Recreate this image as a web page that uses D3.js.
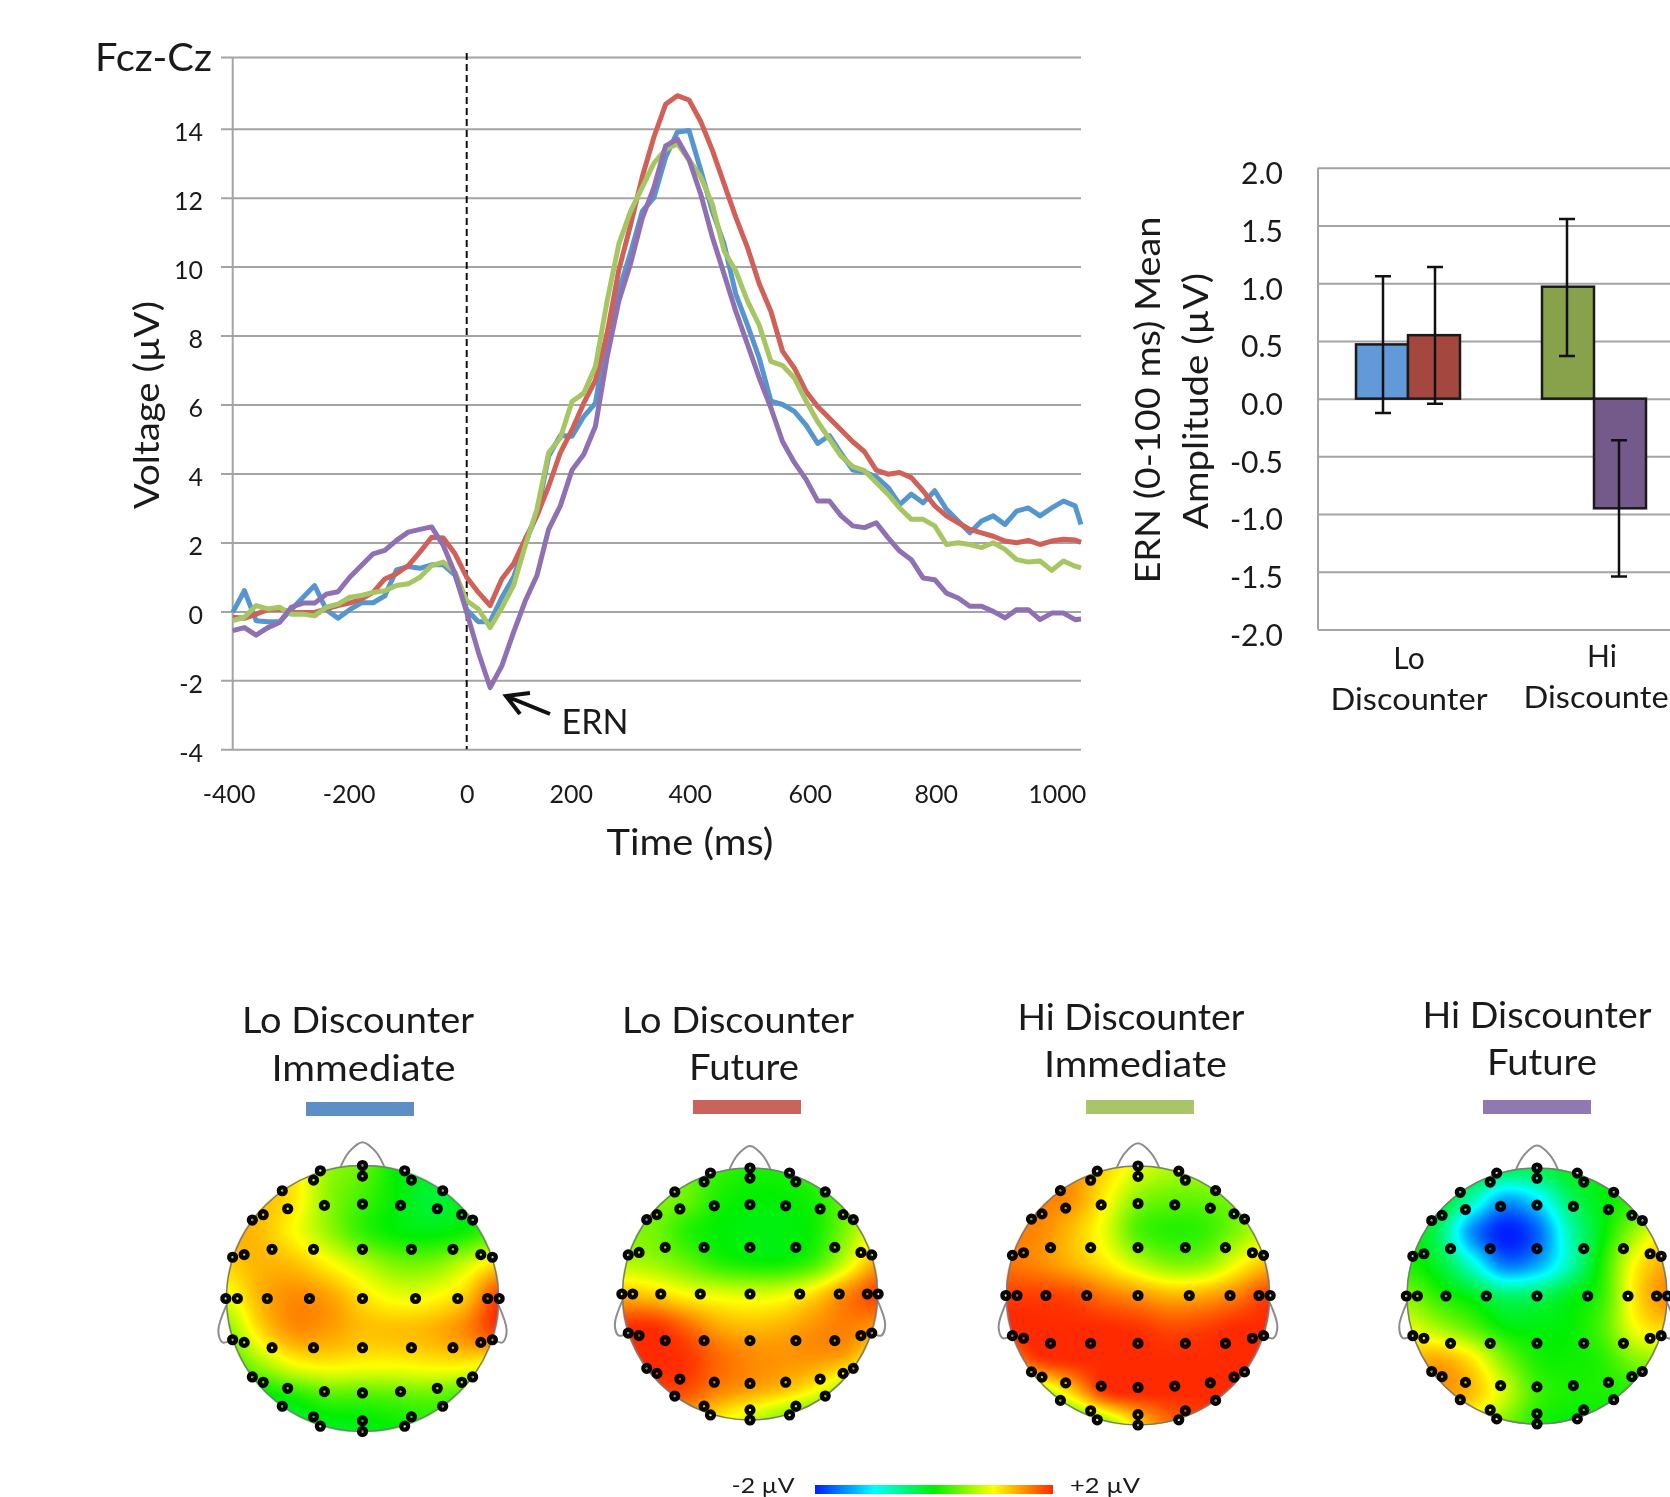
<!DOCTYPE html>
<html>
<head>
<meta charset="utf-8">
<title>ERN</title>
<script src="https://cdnjs.cloudflare.com/ajax/libs/d3/7.8.5/d3.min.js"></script>
<style>
  html, body { margin: 0; padding: 0; background: #fff; overflow: hidden; }
  svg { display: block; filter: blur(0.5px); }
  text { font-family: Lato, "Open Sans", sans-serif; fill: #1a1a1a; }
</style>
</head>
<body>
<div id="chart"></div>
<script>
// waveform data
const times = [-400,-380,-360,-340,-320,-300,-280,-260,-240,-220,-200,-180,-160,-140,-120,-100,-80,-60,-40,-20,
  0,20,40,60,80,100,120,140,160,180,200,220,240,260,280,300,320,340,360,380,
  400,420,440,460,480,500,520,540,560,580,600,620,640,660,680,700,720,740,760,780,
  800,820,840,860,880,900,920,940,960,980,1000,1020,1040,1050]

const loImmediate = [-.03,.6,-.27,-.3,-.3,.05,.4,.75,.05,-.2,.05,.25,.25,.45,1.2,1.3,1.25,1.35,1.35,1.05,
  .05,-.3,-.3,.4,.99,2.0,2.8,4.5,5.1,5.08,5.65,6.04,8.06,9.3,10.4,11.6,12.0,13.17,13.9,13.95,
  12.8,11.6,10.65,9.2,8.3,7.35,6.1,6.0,5.8,5.4,4.87,5.1,4.58,4.1,4.05,3.9,3.6,3.1,3.4,3.15,
  3.5,2.96,2.62,2.28,2.62,2.77,2.52,2.91,3.0,2.77,3.0,3.2,3.06,2.52]
const loFuture = [-.17,-.2,-.08,.05,.07,-.03,-.03,-.03,.07,.17,.24,.36,.55,.94,1.09,1.33,1.72,2.15,2.13,1.67,
  .99,.55,.17,.94,1.38,2.1,2.77,3.63,4.6,5.27,6.04,6.7,8.06,9.9,11.2,12.6,13.76,14.68,14.92,14.8,
  14.2,13.37,12.4,11.43,10.55,9.5,8.7,7.54,7.06,6.38,5.94,5.6,5.26,4.92,4.63,4.1,3.98,4.03,3.88,3.5,
  3.06,2.77,2.57,2.38,2.28,2.18,2.04,1.99,2.06,1.94,2.04,2.09,2.07,2.0]
const hiImmediate = [-.27,-.17,.17,.07,.12,-.08,-.08,-.13,.12,.21,.41,.46,.55,.6,.75,.8,.99,1.33,1.43,1.14,
  .31,.07,-.47,.1,.75,1.9,2.96,4.6,5.03,6.09,6.33,7.1,9.0,10.65,11.6,12.3,13,13.4,13.56,13.1,
  12.6,11.8,10.45,9.87,9,8.3,7.25,7.13,6.77,6.1,5.5,5.0,4.5,4.2,4.08,3.74,3.4,3.0,2.67,2.67,
  2.48,1.94,1.99,1.94,1.85,1.99,1.8,1.5,1.43,1.46,1.19,1.46,1.31,1.26]
const hiFuture = [-.56,-.47,-.69,-.47,-.32,.12,.24,.24,.5,.57,.99,1.33,1.67,1.77,2.06,2.3,2.38,2.45,1.91,1.09,
  -.03,-1.19,-2.21,-1.58,-.61,.3,1.04,2.38,3.06,4.1,4.55,5.37,7.38,9.0,10.08,11.4,12.3,13.5,13.7,13.1,
  12.1,10.85,9.78,8.7,7.74,6.77,5.9,4.92,4.32,3.83,3.2,3.2,2.77,2.48,2.43,2.57,2.14,1.75,1.5,.97,
  .92,.53,.39,.15,.15,0,-.19,.05,.05,-.24,-.05,-.05,-.24,-.22]

const waveYTicks = [-4,-2,0,2,4,6,8,10,12,14,16]
const waveXTicks = [-400,-200,0,200,400,600,800,1000]

// bar panel
const barGroups = ["Lo Discounter", "Hi Discounter"]
const barKeys = ["Immediate", "Future"]
const barMeans = [[0.47, 0.55], [0.97, -0.95]]
const barErrLow = [[-0.125, -0.045], [0.37, -1.54]]
const barErrHigh = [[1.06, 1.14], [1.557, -0.36]]
const barTicks = [-2,-1.5,-1,-0.5,0,0.5,1,1.5,2]

// scalp maps: potential on a 9x9 grid, rows top to bottom, columns left to right
const topoLoImmediate = [
  [1.2,1.2,1.1,.6,.4,0,-.1,0,0],
  [1.3,1.3,1.1,.55,.25,0,-.2,-.1,0],
  [1.4,1.3,1.0,.6,.2,0,-.05,.05,.3],
  [1.2,1.35,1.3,1.05,.75,.5,.5,.8,1.2],
  [.9,1.35,1.55,1.45,1.15,.95,1.0,1.25,1.9],
  [.5,1.15,1.5,1.45,1.3,1.3,1.35,1.55,1.9],
  [.2,.6,.95,1.05,1.0,1.0,1.05,1.05,.9],
  [-.2,-.1,.05,.25,.25,.3,.35,.2,.2],
  [-.2,-.2,-.2,-.15,-.1,0,.1,.1,.1]]
const topoLoFuture = [
  [.5,.5,.4,.2,.1,.1,.2,.3,.4],
  [.5,.5,.4,.1,0,0,.1,.4,.7],
  [.5,.45,.15,0,-.05,-.05,.05,.5,1],
  [.7,.6,.4,.15,.05,.05,.25,.8,1.4],
  [1.3,1.2,1.0,.9,.85,.9,1.15,1.55,1.85],
  [1.95,1.95,1.7,1.4,1.3,1.35,1.5,1.6,1.5],
  [2,2,1.95,1.7,1.55,1.5,1.5,1.4,1.0],
  [1.8,1.9,1.85,1.6,1.45,1.3,1.05,.6,.3],
  [1.5,1.5,1.4,1.1,.8,.5,.2,0,0]]
const topoHiImmediate = [
  [1.6,1.6,1.5,1.2,.9,.7,.7,.8,.8],
  [1.6,1.6,1.5,1.05,.55,.4,.4,.5,.7],
  [1.6,1.55,1.3,.9,.3,.15,.2,.5,.85],
  [1.65,1.55,1.35,1.1,.75,.5,.55,.95,1.3],
  [1.9,1.9,1.85,1.65,1.5,1.35,1.4,1.6,1.9],
  [2,2,2,2,1.95,1.85,1.9,2,2],
  [1.5,1.9,2,2,2,2,2,2,2],
  [.5,.6,1.2,1.9,2,2,2,2,1.9],
  [0,0,.1,.5,1.2,1.7,1.9,1.9,1.9]]
const topoHiFuture = [
  [.05,.05,-.1,-.3,-.3,-.1,0,.1,.3],
  [0,-.1,-.7,-1.4,-1.1,-.4,-.05,.2,.5],
  [0,-.4,-1.5,-2,-1.7,-.7,-.05,.6,1.1],
  [.1,-.2,-.85,-1.6,-1.4,-.7,.1,1.0,1.4],
  [.5,.15,-.1,-.4,-.35,-.1,.2,1.1,1.55],
  [.9,.65,.35,0,-.05,0,.3,.95,1.2],
  [1.3,1.4,1.1,.5,.1,.05,.15,.5,.6],
  [1.4,1.5,1.3,.8,.25,.1,.1,.1,.1],
  [1.2,1.2,.9,.5,.1,0,0,0,0]]
const topoGrid = d3.range(-1, 1.01, 0.25)

// electrode montage, one quadrant, mirrored below
const montageU = [0,0,0,0,0,.28,.55,.73,.81,.59,.36,.31,.36,.665,.87,.955,.39,.70,.92,1.005]
const montageV = [1,.92,.71,.37,0,.7,.675,.63,.59,.81,.89,.96,.37,.37,.33,.31,0,0,0,0]
const colorStops = [-2,-1,0,1,2]
const colorValues = ["#0020ff","#00ffff","#00f000","#ffff00","#ff2a00"]

const svg = d3.select("#chart").append("svg").attr("width", 1670).attr("height", 1497)

const gridColor = "#a4a4a4"

function label(str, x, y, size, opts) {
  opts = opts || {}
  const t = svg.append("text")
    .attr("font-size", size)
    .attr("text-anchor", opts.anchor || "middle")
    .attr("dominant-baseline", "central")
    .text(str)
  // the original text is stretched along its run, so fit to the measured length
  if(opts.len) t.attr("textLength", opts.len).attr("lengthAdjust", "spacingAndGlyphs")
  if(opts.rotate) t.attr("transform", "translate(" + x + "," + y + ") rotate(" + opts.rotate + ")")
  else t.attr("x", x).attr("y", y)
  return t
}

drawWaves()
drawBars()
drawMaps()

function drawWaves() {
  const x = d3.scaleLinear().domain([-400, 1050]).range([232.7, 1081])
  // top rule sits a bit higher than the 2 uV spacing in the original
  const y = d3.scaleLinear().domain([-4, 14, 16]).range([749.3, 128.7, 57])

  const g = svg.append("g")

  // grid + y labels
  const yAxis = g.append("g")
    .attr("transform", "translate(221,0)")
    .call(d3.axisRight(y).tickValues(waveYTicks).tickSize(860).tickFormat(""))
  yAxis.select(".domain").remove()
  yAxis.selectAll("line").attr("stroke", gridColor).attr("stroke-width", 2)

  const yLabels = g.append("g")
    .attr("transform", "translate(232,0)")
    .call(d3.axisLeft(y).tickValues(waveYTicks.filter(d => d < 16)).tickSize(0).tickPadding(29).tickFormat(d => d))
  yLabels.select(".domain").remove()
  yLabels.selectAll("text").attr("font-size", 25).attr("dy", "0.47em").attr("font-family", null)

  g.append("line")
    .attr("x1", x(-400)).attr("x2", x(-400))
    .attr("y1", y(16)).attr("y2", y(-4))
    .attr("stroke", gridColor).attr("stroke-width", 2)

  // x labels were placed by hand in the original, they drift from the scale
  const xNudge = {"-400": -4, "-200": -1, "0": 0, "200": -13, "400": -11, "600": -8, "800": 1, "1000": 5}
  const xLabels = g.append("g")
    .attr("transform", "translate(0,749)")
    .call(d3.axisBottom(x).tickValues(waveXTicks).tickSize(0).tickPadding(36).tickFormat(d => d))
  xLabels.select(".domain").remove()
  xLabels.selectAll("text").attr("font-size", 25).attr("font-family", null)
    .attr("dx", d => xNudge[d])

  // response onset
  g.append("line")
    .attr("x1", x(0)).attr("x2", x(0))
    .attr("y1", 53).attr("y2", y(-4))
    .attr("stroke", "#111").attr("stroke-width", 2).attr("stroke-dasharray", "7 4")

  const line = d3.line().x((d, i) => x(times[i])).y(d => y(d))
  const series = [[loImmediate, "#5596cf"], [loFuture, "#cf6158"], [hiImmediate, "#a5c663"], [hiFuture, "#8f70b3"]]
  g.selectAll(".wave").data(series).enter().append("path")
    .attr("class", "wave")
    .attr("d", d => line(d[0]))
    .attr("fill", "none")
    .attr("stroke", d => d[1])
    .attr("stroke-width", 5)
    .attr("stroke-linejoin", "round")

  label("Fcz-Cz", 153.5, 56, 39, {len: 117})
  label("Voltage (µV)", 145, 405, 35, {rotate: -90, len: 208})
  label("Time (ms)", 690, 840, 37, {len: 167})
  label("ERN", 595, 720, 34, {len: 67})

  // arrow pointing at the ERN dip
  const arrow = d3.line()
  g.append("path")
    .attr("d", arrow([[550, 714], [506, 696]]) + arrow([[530, 693], [506, 696], [520, 714]]))
    .attr("fill", "none").attr("stroke", "#111").attr("stroke-width", 4)
}

function drawBars() {
  const y = d3.scaleLinear().domain([-2, 2]).range([629.5, 167.8])
  const x0 = d3.scaleBand().domain(barGroups).range([1315, 1687])
  const x1 = d3.scaleBand().domain(barKeys).range([-52, 52])
  const fills = [["#6299d9", "#a4483f"], ["#87a24b", "#735a8a"]]

  const g = svg.append("g")

  const grid = g.append("g")
    .attr("transform", "translate(1318,0)")
    .call(d3.axisRight(y).tickValues(barTicks).tickSize(380).tickFormat(""))
  grid.select(".domain").remove()
  grid.selectAll("line").attr("stroke", gridColor).attr("stroke-width", 2)

  const labels = g.append("g")
    .attr("transform", "translate(1318,0)")
    .call(d3.axisLeft(y).tickValues(barTicks).tickSize(0).tickPadding(35).tickFormat(d => d.toFixed(1)))
  labels.select(".domain").remove()
  labels.selectAll("text").attr("font-size", 30).attr("dy", "0.53em").attr("font-family", null)

  g.append("line")
    .attr("x1", 1318).attr("x2", 1318).attr("y1", y(2)).attr("y2", y(-2))
    .attr("stroke", gridColor).attr("stroke-width", 2)

  barGroups.forEach((group, i) => {
    barKeys.forEach((key, j) => {
      const bx = x0(group) + x0.bandwidth() / 2 + x1(key)
      const v = barMeans[i][j]
      g.append("rect")
        .attr("x", bx).attr("width", x1.bandwidth())
        .attr("y", y(Math.max(v, 0))).attr("height", Math.abs(y(v) - y(0)))
        .attr("fill", fills[i][j]).attr("stroke", "#1a1a1a").attr("stroke-width", 2.5)
      // whiskers sit a little off the bar centre in the original
      const cx = bx + x1.bandwidth() / 2 + (i === 0 ? 1 : -1)
      const lo = y(barErrLow[i][j]), hi = y(barErrHigh[i][j])
      g.append("path")
        .attr("d", "M" + cx + "," + lo + "V" + hi + "M" + (cx - 8) + "," + lo + "H" + (cx + 8) + "M" + (cx - 8) + "," + hi + "H" + (cx + 8))
        .attr("fill", "none").attr("stroke", "#111").attr("stroke-width", 2.5)
    })
  })

  label("ERN (0-100 ms) Mean", 1146, 400, 34, {rotate: -90, len: 367})
  label("Amplitude (µV)", 1194, 401, 34, {rotate: -90, len: 256})
  label("Lo", 1409, 657, 30)
  label("Discounter", 1409, 698, 30, {len: 157})
  label("Hi", 1602, 655, 30)
  label("Discounter", 1602, 696, 30, {len: 157})
}

function drawMaps() {
  const color = d3.scaleLinear().domain(colorStops).range(colorValues).clamp(true)
  const lut = d3.range(512).map(i => d3.rgb(color(-2 + 4 * i / 511)))

  // Catmull-Rom through the grid
  const cr = (a, b, c, d, t) => 0.5 * (2 * b + (c - a) * t + (2 * a - 5 * b + 4 * c - d) * t * t + (3 * b - a - 3 * c + d) * t * t * t)
  function sample(rows, u, v) {
    const n = topoGrid.length - 1
    const fx = Math.min(Math.max((u + 1) / 2 * n, 0), n - 1e-6)
    const fy = Math.min(Math.max((v + 1) / 2 * n, 0), n - 1e-6)
    const ix = Math.floor(fx), iy = Math.floor(fy)
    const at = (r, c) => rows[Math.min(Math.max(r, 0), n)][Math.min(Math.max(c, 0), n)]
    const col = [-1, 0, 1, 2].map(dr => cr(at(iy + dr, ix - 1), at(iy + dr, ix), at(iy + dr, ix + 1), at(iy + dr, ix + 2), fx - ix))
    return cr(col[0], col[1], col[2], col[3], fy - iy)
  }

  function mapImage(rows, rx, ry) {
    const w = Math.round(rx * 2), h = Math.round(ry * 2)
    const canvas = document.createElement("canvas")
    canvas.width = w; canvas.height = h
    const ctx = canvas.getContext("2d")
    const img = ctx.createImageData(w, h)
    for(let py = 0; py < h; py++) {
      for(let px = 0; px < w; px++) {
        const u = (px + 0.5) / w * 2 - 1, v = (py + 0.5) / h * 2 - 1
        const r = Math.sqrt(u * u + v * v)
        if(r > 1.01) continue
        const val = sample(rows, u, v)
        const c = lut[Math.round((Math.max(-2, Math.min(2, val)) + 2) / 4 * 511)]
        const k = (py * w + px) * 4
        img.data[k] = c.r; img.data[k + 1] = c.g; img.data[k + 2] = c.b
        img.data[k + 3] = Math.max(0, Math.min(1, (1.01 - r) * rx)) * 255
      }
    }
    ctx.putImageData(img, 0, 0)
    return canvas.toDataURL()
  }

  // mirror the quadrant into the whole montage
  const montage = []
  montageU.forEach((u, i) => {
    const v = montageV[i]
    const us = u === 0 ? [0] : [u, -u], vs = v === 0 ? [0] : [v, -v]
    us.forEach(a => vs.forEach(b => montage.push([a, b])))
  })

  const heads = [
    {rows: topoLoImmediate, cx: 362.5, cy: 1298.5, rx: 136, ry: 133, title: ["Lo Discounter", "Immediate"], tx: [358, 363.5], ty: [1019, 1067], len: [232, 184],
      key: "#5d8fc4", kx: 306, ky: 1102},
    {rows: topoLoFuture, cx: 750, cy: 1294, rx: 127.5, ry: 126, title: ["Lo Discounter", "Future"], tx: [738, 744], ty: [1019, 1065.5], len: [232, 110],
      key: "#c9645c", kx: 693, ky: 1100},
    {rows: topoHiImmediate, cx: 1138, cy: 1295.5, rx: 131.5, ry: 129.5, title: ["Hi Discounter", "Immediate"], tx: [1131, 1135.5], ty: [1016, 1063], len: [227, 183],
      key: "#aac46c", kx: 1086, ky: 1100},
    {rows: topoHiFuture, cx: 1537, cy: 1296, rx: 130, ry: 128, title: ["Hi Discounter", "Future"], tx: [1537, 1542], ty: [1014, 1061], len: [229, 110],
      key: "#9079b0", kx: 1483, ky: 1100}
  ]

  const nose = [[-.165,-.98],[-.1,-1.1],[0,-1.175],[.1,-1.1],[.165,-.98]]
  const earL = [[-1,.05],[-1.06,.24],[-1.03,.33],[-.96,.31]]
  const earR = earL.map(d => [-d[0], d[1]])

  heads.forEach(head => {
    const x = d3.scaleLinear().domain([-1, 1]).range([head.cx - head.rx, head.cx + head.rx])
    const y = d3.scaleLinear().domain([-1, 1]).range([head.cy - head.ry, head.cy + head.ry])
    const g = svg.append("g")
    const outline = d3.line().x(d => x(d[0])).y(d => y(d[1])).curve(d3.curveCatmullRom)

    g.selectAll(".feature").data([nose, earL, earR]).enter().append("path")
      .attr("d", outline).attr("fill", "none").attr("stroke", "#8c8c8c").attr("stroke-width", 2)

    g.append("image")
      .attr("x", x(-1)).attr("y", y(-1))
      .attr("width", head.rx * 2).attr("height", head.ry * 2)
      .attr("href", mapImage(head.rows, head.rx, head.ry))

    g.append("ellipse")
      .attr("cx", head.cx).attr("cy", head.cy).attr("rx", head.rx).attr("ry", head.ry)
      .attr("fill", "none").attr("stroke", "#7a7a7a").attr("stroke-width", 1.5)

    g.selectAll(".electrode").data(montage).enter().append("circle")
      .attr("cx", d => x(d[0])).attr("cy", d => y(d[1]))
      .attr("r", 3.4)
      .attr("fill", "none").attr("stroke", "#050505").attr("stroke-width", 4.4)

    label(head.title[0], head.tx[0], head.ty[0], 36, {len: head.len[0]})
    label(head.title[1], head.tx[1], head.ty[1], 36, {len: head.len[1]})
    g.append("rect").attr("x", head.kx).attr("y", head.ky).attr("width", 108).attr("height", 14).attr("fill", head.key)
  })

  // colour bar
  const cx = d3.scaleLinear().domain([-2, 2]).range([815, 1053])
  const grad = svg.append("defs").append("linearGradient").attr("id", "scale-grad")
  grad.selectAll("stop").data(colorStops).enter().append("stop")
    .attr("offset", d => (cx(d) - 815) / 238)
    .attr("stop-color", d => color(d))
  svg.append("rect")
    .attr("x", cx(-2)).attr("y", 1485).attr("width", cx(2) - cx(-2)).attr("height", 9)
    .attr("fill", "url(#scale-grad)")
  label("-2 µV", 763, 1484, 22, {len: 63})
  label("+2 µV", 1105, 1484, 22, {len: 70})
}
</script>
</body>
</html>
